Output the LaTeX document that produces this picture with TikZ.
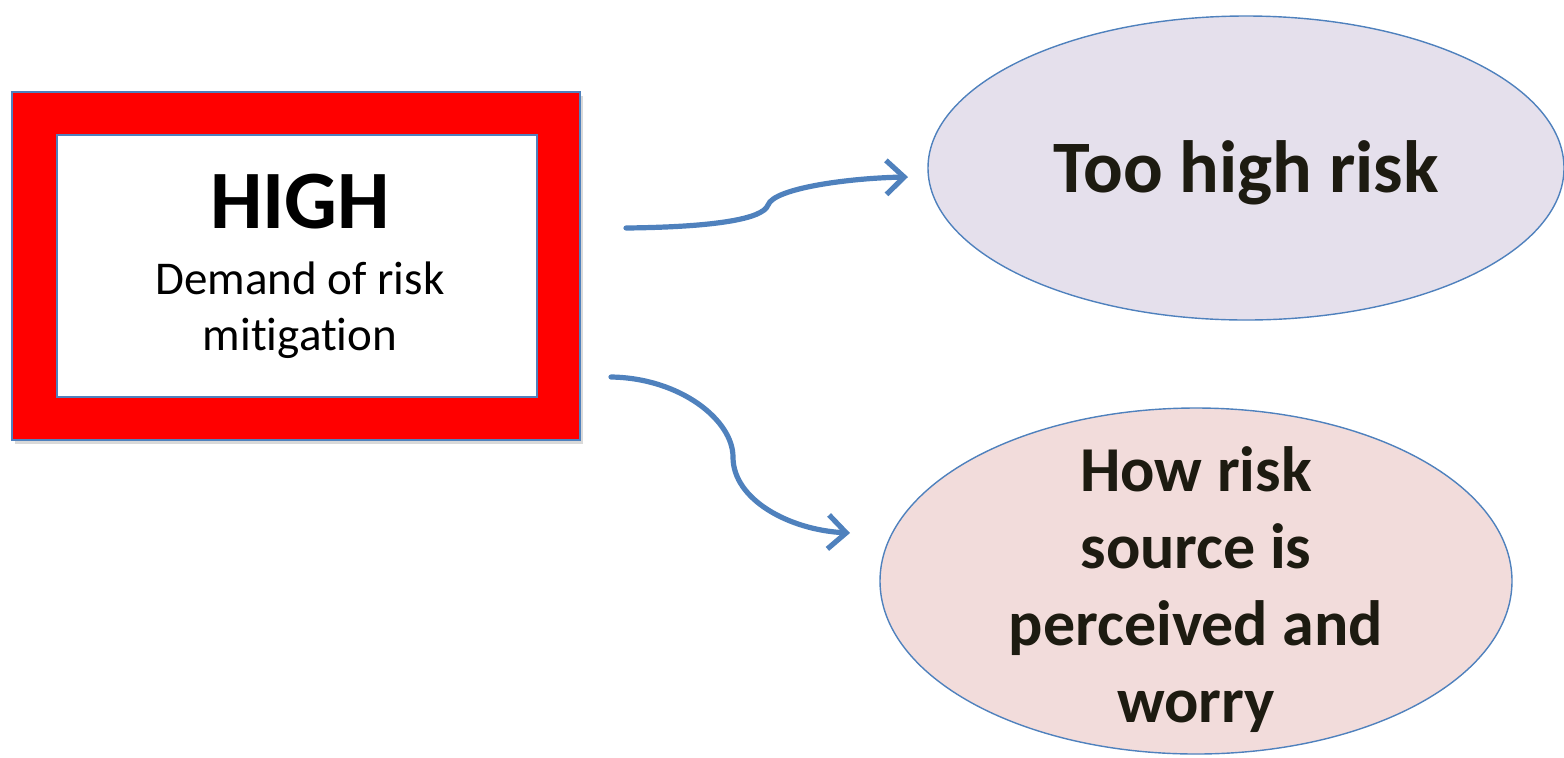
\documentclass[tikz,border=0pt]{standalone}
\usepackage{fontspec}
\setmainfont{Carlito}[Ligatures=NoCommon]
\usetikzlibrary{shapes.geometric,arrows.meta,shadows}
\definecolor{linkblue}{HTML}{4F81BD}
\definecolor{lav}{HTML}{E5E0EC}
\definecolor{pinkish}{HTML}{F2DCDB}
\definecolor{txt}{HTML}{1D1B11}
\tikzset{
  frame/.style={draw=linkblue, line width=0.6pt, fill=red, minimum width=284pt, minimum height=174pt, inner sep=0pt,
    drop shadow={opacity=0.3, shadow xshift=1.5pt, shadow yshift=-2pt}},
  innerbox/.style={draw=linkblue, line width=0.6pt, fill=white, minimum width=240pt, minimum height=131pt, inner sep=0pt},
  oval/.style={ellipse, draw=linkblue, line width=0.7pt, inner sep=0pt, text=txt, font=\bfseries},
  link/.style={draw=linkblue, line width=2.6pt, -{Straight Barb[length=9pt, width=17pt, line width=2.6pt]}, line cap=round}
}
\begin{document}
\begin{tikzpicture}[x=0.5pt, y=-0.5pt]
\useasboundingbox (0,0) rectangle (1564,757);
% left box
\node[frame] (box) at (296,266) {};
\node[innerbox] (inner) at (297,266) {};
\node[anchor=base, font=\fontsize{41.5}{45}\selectfont\bfseries] (high) at (300,228) {HIGH};
\node[anchor=base, align=center, font=\fontsize{23.5}{27.8}\selectfont] (demand) at (300,350) {Demand of risk\\mitigation};
% ellipses
\node[oval, fill=lav, minimum width=318pt, minimum height=152pt] (e1) at (1246,168) {};
\node[anchor=base, text=txt, font=\fontsize{37}{40}\selectfont\bfseries] (t1) at (1246,192) {Too high risk};
\node[oval, fill=pinkish, minimum width=316pt, minimum height=173pt] (e2) at (1196,581) {};
\node[anchor=base, align=center, text=txt, font=\fontsize{32}{38.5}\selectfont\bfseries] (t2) at (1196,722) {How risk\\source is\\perceived and\\worry};
% connectors
\coordinate (s1) at (626,228);
\coordinate (m1) at (768,205);
\coordinate (f1) at (908,177);
\coordinate (s2) at (611,377);
\coordinate (m2) at (733,457);
\coordinate (f2) at (850,533);
\draw[link] (s1) .. controls (715,227) and (763,219) .. (m1) .. controls (774,188) and (850,178) .. (f1);
\draw[link] (s2) .. controls (680,378) and (733,420) .. (m2) .. controls (733,500) and (790,530) .. (f2);
\end{tikzpicture}
\end{document}
